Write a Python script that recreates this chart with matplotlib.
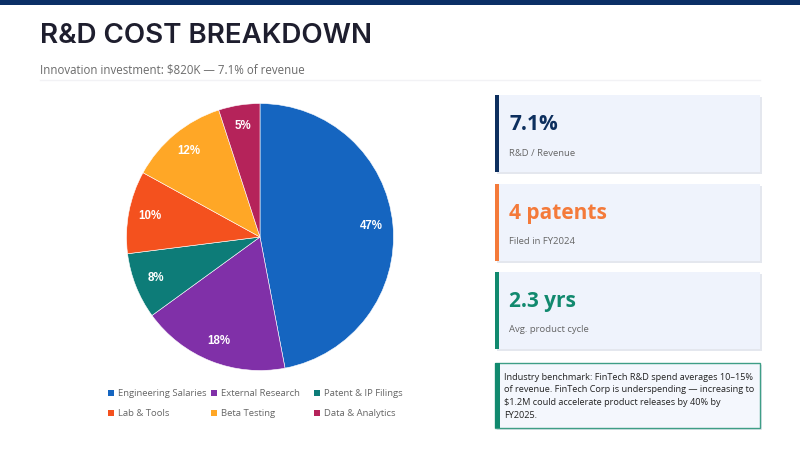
import matplotlib
matplotlib.use("Agg")
import matplotlib.pyplot as plt
from matplotlib.patches import Rectangle

categories = ["Engineering Salaries", "External Research", "Patent & IP Filings",
              "Lab & Tools", "Beta Testing", "Data & Analytics"]
shares = [47, 18, 8, 10, 12, 5]
colors = ["#1565C0", "#8030A8", "#0D7C78", "#F4511E", "#FFA726", "#B5235A"]

kpi_values = ["7.1%", "4 patents", "2.3 yrs"]
kpi_labels = ["R&D / Revenue", "Filed in FY2024", "Avg. product cycle"]
kpi_colors = ["#0D2F5E", "#F47A3A", "#11896E"]
note_lines = ["Industry benchmark: FinTech R&D spend averages 10–15%",
              "of revenue. FinTech Corp is underspending — increasing to",
              "$1.2M could accelerate product releases by 40% by",
              "FY2025."]

W, H = 800, 450
fig = plt.figure(figsize=(8, 4.5), dpi=100)
fig.patch.set_facecolor("white")
bg = fig.add_axes([0, 0, 1, 1])
bg.set_xlim(0, W)
bg.set_ylim(H, 0)
bg.axis("off")

# top bar
bg.add_patch(Rectangle((0, 0), W, 5, color="#0B2F66", lw=0))
bg.text(40, 36, "R&D COST BREAKDOWN", fontsize=20, fontweight="semibold",
        family="Inter", color="#1E1E2E", va="center", ha="left")
bg.text(40, 70, "Innovation investment: $820K — 7.1% of revenue", fontsize=8.3,
        family="Open Sans", color="#6B6B6B", va="center", ha="left")
bg.plot([40, 760], [80, 80], color="#F2F2F5", lw=1)

# KPI cards
tops = [95, 184, 272]
for top, val, lab, col in zip(tops, kpi_values, kpi_labels, kpi_colors):
    bg.add_patch(Rectangle((497, top + 2), 265, 77, color="#E4E7EE", lw=0, zorder=1))
    bg.add_patch(Rectangle((495, top), 265, 77, color="#EFF3FC", lw=0, zorder=2))
    bg.add_patch(Rectangle((495, top), 4, 77, color=col, lw=0, zorder=3))
    bg.text(509, top + 30, val, fontsize=15, fontweight="bold", family="Open Sans",
            color=col, va="center", ha="left", zorder=4)
    bg.text(509, top + 58, lab, fontsize=6.8, family="Open Sans", color="#666666",
            va="center", ha="left", zorder=4)

# note box
bg.add_patch(Rectangle((497, 365), 265, 65, color="#E4E7EE", lw=0, zorder=1))
bg.add_patch(Rectangle((495, 363), 265, 65, facecolor="#F4F7FD", edgecolor="#3E9E86",
                       lw=1, zorder=2))
bg.add_patch(Rectangle((495, 363), 5, 65, color="#11896E", lw=0, zorder=3))
for i, line in enumerate(note_lines):
    bg.text(504, 377 + i * 12.7, line, fontsize=6.6, family="Open Sans",
            color="#222222", va="center", ha="left", zorder=4)

# pie
cx, cy, r = 260, 237, 133.5
pax = fig.add_axes([(cx - r) / W, (H - cy - r) / H, 2 * r / W, 2 * r / H])
wedges, texts, autotexts = pax.pie(
    shares, colors=colors, startangle=90, counterclock=False,
    autopct=lambda p: f"{p:.0f}%", pctdistance=0.84,
    wedgeprops=dict(edgecolor="white", linewidth=0.4),
    textprops=dict(color="white", fontsize=8.3, fontweight="bold", family="Liberation Sans"))
pax.set_xlim(-1, 1)
pax.set_ylim(-1, 1)
pax.set_aspect("equal")
pax.axis("off")

# legend
legend_x = [110, 213, 316]
legend_y = [393, 413]
for i, (cat, col) in enumerate(zip(categories, colors)):
    x = legend_x[i % 3]
    y = legend_y[i // 3]
    bg.add_patch(Rectangle((x - 2, y - 3), 6, 6, color=col, lw=0))
    bg.text(x + 8, y, cat, fontsize=6.8, family="Open Sans", color="#666666",
            va="center", ha="left")

fig.savefig("out.png", dpi=100)
